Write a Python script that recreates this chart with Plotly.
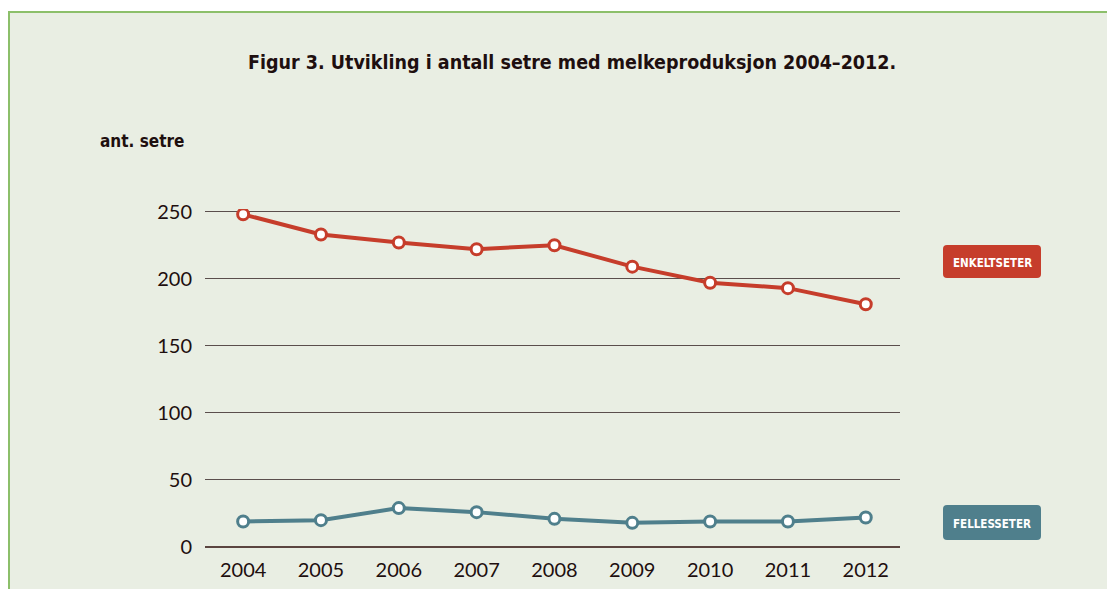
import plotly.graph_objects as go

years = [2004, 2005, 2006, 2007, 2008, 2009, 2010, 2011, 2012]
enkeltseter = [248, 233, 227, 222, 225, 209, 197, 193, 181]
fellesseter = [19, 20, 29, 26, 21, 18, 19, 19, 22]
y_ticks = [0, 50, 100, 150, 200, 250]

RED = "#c63d2b"
TEAL = "#4f7f8c"
BOX_FILL = "#e9eee3"
COND = "DejaVu Sans Condensed, Liberation Sans Narrow, Roboto, sans-serif"

W, H = 1107, 581
PL, PR, PT, PB = 197, 892, 201, 539  # plot area in figure px

fig = go.Figure()
for vals, col in [(enkeltseter, RED), (fellesseter, TEAL)]:
    fig.add_trace(go.Scatter(
        x=years, y=vals, mode="lines+markers",
        line=dict(color=col, width=4),
        marker=dict(size=11, color="white", line=dict(color=col, width=3)),
        showlegend=False, hoverinfo="x+y"))

# reference-pixel -> paper coordinates (figure is offset by 8px in the page)
def px_x(p):
    return (p - 8 - PL) / float(PR - PL)

def px_y(p):
    return (PB - (p - 8)) / float(PB - PT)

shapes = [
    dict(type="rect", xref="paper", yref="paper", layer="below",
         x0=px_x(9), x1=px_x(1140), y0=px_y(12), y1=px_y(620),
         fillcolor=BOX_FILL, line=dict(color="#8cbf6a", width=2)),
]

def rounded(x0, y0, x1, y1, r):
    X0, X1 = px_x(x0), px_x(x1)
    Y0, Y1 = px_y(y0), px_y(y1)
    rx = r / float(PR - PL)
    ry = r / float(PB - PT)
    return (f"M {X0+rx},{Y0} L {X1-rx},{Y0} Q {X1},{Y0} {X1},{Y0-ry} "
            f"L {X1},{Y1+ry} Q {X1},{Y1} {X1-rx},{Y1} L {X0+rx},{Y1} "
            f"Q {X0},{Y1} {X0},{Y1+ry} L {X0},{Y0-ry} Q {X0},{Y0} {X0+rx},{Y0} Z")

for (y0, y1, col) in [(245, 278, RED), (505, 540, TEAL)]:
    shapes.append(dict(type="path", xref="paper", yref="paper",
                       path=rounded(943, y0, 1041, y1, 4),
                       fillcolor=col, line=dict(width=0)))

annotations = [
    dict(text="<b>ENKELTSETER</b>", xref="paper", yref="paper",
         x=px_x(992), y=px_y(263), xanchor="center", yanchor="middle", showarrow=False,
         font=dict(family=COND, size=11.5, color="white")),
    dict(text="<b>FELLESSETER</b>", xref="paper", yref="paper",
         x=px_x(992), y=px_y(524), xanchor="center", yanchor="middle", showarrow=False,
         font=dict(family=COND, size=11.5, color="white")),
    dict(text="<b>ant. setre</b>", xref="paper", yref="paper",
         x=px_x(98), y=px_y(141), xanchor="left", yanchor="middle", showarrow=False,
         font=dict(family=COND, size=17, color="#1e0f0f")),
    dict(text="<b>Figur 3. Utvikling i antall setre med melkeproduksjon 2004–2012.</b>",
         xref="paper", yref="paper", x=px_x(572), y=px_y(62),
         xanchor="center", yanchor="middle", showarrow=False,
         font=dict(family=COND, size=19.5, color="#1e0f0f")),
]

fig.update_layout(
    width=W, height=H,
    margin=dict(l=PL, r=W - PR, t=PT, b=H - PB, pad=0, autoexpand=False),
    paper_bgcolor="white",
    plot_bgcolor="rgba(0,0,0,0)",
    shapes=shapes,
    annotations=annotations,
    xaxis=dict(range=[2003.51, 2012.44], tickvals=years, ticktext=[str(y) for y in years],
               showgrid=False, zeroline=False, showline=False, ticks="",
               tickfont=dict(family="Lato", size=20, color="#1e0f0f"), ticklabelstandoff=9,
               automargin=False, fixedrange=True),
    yaxis=dict(range=[0, 252], tickvals=y_ticks, showgrid=True,
               gridcolor="#5a4e4c", gridwidth=1, zeroline=True,
               zerolinecolor="#5b4540", zerolinewidth=2, showline=False, ticks="",
               tickfont=dict(family="Lato", size=20, color="#1e0f0f"), ticklabelstandoff=12,
               automargin=False, fixedrange=True),
)

fig.write_html("out.html")
